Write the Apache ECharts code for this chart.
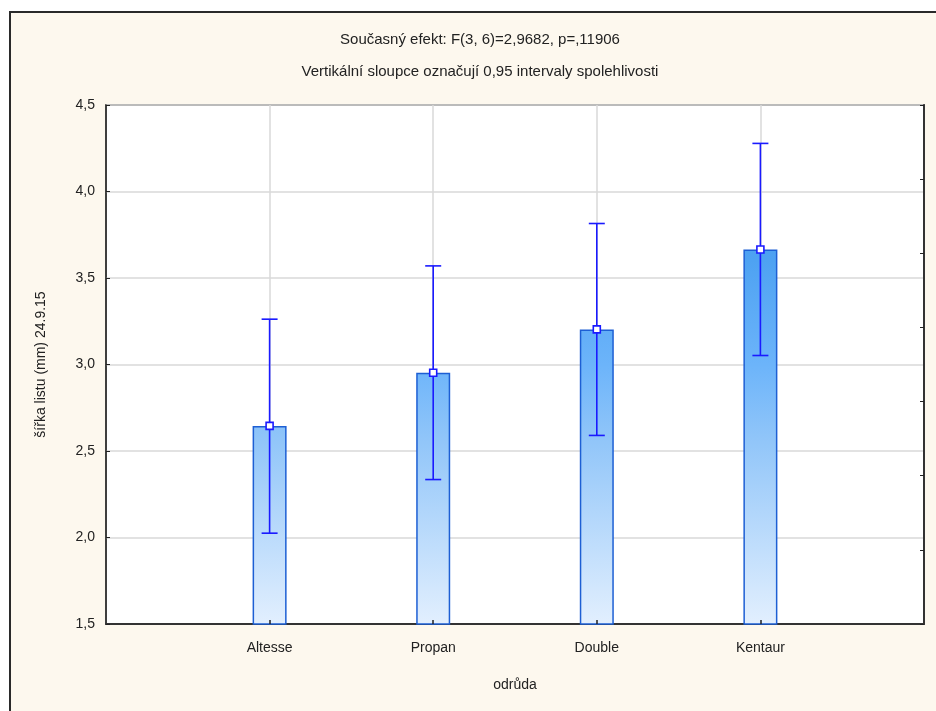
<!DOCTYPE html>
<html>
<head>
<meta charset="utf-8">
<script src="https://cdn.jsdelivr.net/npm/echarts@6/dist/echarts.min.js"></script>
<style>
  html, body { margin: 0; padding: 0; background: #fff; }
  #main { width: 936px; height: 711px; }
</style>
</head>
<body>
<div id="main"></div>
<script>
  // data
  var categories = ['Altesse', 'Propan', 'Double', 'Kentaur'];
  var means = [2.645, 2.952, 3.203, 3.665];
  var ciLow = [2.025, 2.335, 2.590, 3.052];
  var ciHigh = [3.262, 3.570, 3.815, 4.278];
  var titleLines = ['Současný efekt: F(3, 6)=2,9682, p=,11906', 'Vertikální sloupce označují 0,95 intervaly spolehlivosti'];

  var FONT = '"Liberation Sans", Arial, sans-serif';
  var ERR = '#1a1aff';

  // pad one empty slot on each side, like the original axis
  var xCats = [''].concat(categories).concat(['']);
  var barData = ['-'].concat(means).concat(['-']);
  var errData = [];
  for (var i = 0; i < categories.length; i++) {
    errData.push([i + 1, ciLow[i], ciHigh[i], means[i]]);
  }
  function innerIdx(idx) { return idx > 0 && idx < xCats.length - 1; }

  function renderErr(params, api) {
    var x = api.value(0);
    var lo = api.coord([x, api.value(1)]);
    var hi = api.coord([x, api.value(2)]);
    var m = api.coord([x, api.value(3)]);
    var cap = 8;
    var st = { stroke: ERR, lineWidth: 1.6, fill: null };
    return {
      type: 'group',
      children: [
        { type: 'line', shape: { x1: hi[0], y1: hi[1], x2: lo[0], y2: lo[1] }, style: st },
        { type: 'line', shape: { x1: hi[0] - cap, y1: hi[1], x2: hi[0] + cap, y2: hi[1] }, style: st },
        { type: 'line', shape: { x1: lo[0] - cap, y1: lo[1], x2: lo[0] + cap, y2: lo[1] }, style: st },
        { type: 'rect', shape: { x: m[0] - 3.5, y: m[1] - 3.5, width: 7, height: 7 },
          style: { fill: '#fff', stroke: ERR, lineWidth: 1.6 } }
      ]
    };
  }

  var myChart = echarts.init(document.getElementById('main'), null, { renderer: 'canvas' });
  var option = {
    animation: false,
    backgroundColor: '#fff',
    textStyle: { fontFamily: FONT },
    graphic: [
      { type: 'rect', z: -100, silent: true,
        shape: { x: 10, y: 12, width: 940, height: 720 },
        style: { fill: '#fdf8ee', stroke: '#2a2a2a', lineWidth: 2 } },
      { type: 'text', x: 480, y: 40, style: { text: titleLines[0], font: '15px ' + FONT, fill: '#222', align: 'center', verticalAlign: 'middle' } },
      { type: 'text', x: 480, y: 72, style: { text: titleLines[1], font: '15px ' + FONT, fill: '#222', align: 'center', verticalAlign: 'middle' } }
    ],
    grid: {
      left: 106, top: 105, right: 12, bottom: 87,
      show: true, backgroundColor: '#fff', borderColor: '#333', borderWidth: 1.5
    },
    xAxis: [{
      type: 'category',
      data: xCats,
      boundaryGap: false,
      name: 'odrůda',
      nameLocation: 'middle',
      nameGap: 54,
      nameTextStyle: { fontSize: 14, color: '#222' },
      axisLine: { lineStyle: { color: '#333', width: 2 } },
      axisTick: { show: false },
      axisLabel: { fontSize: 14, color: '#222', margin: 17, interval: 0 },
      splitLine: { show: true, lineStyle: { color: '#d9d9d9', width: 1.5 }, interval: innerIdx }
    }, {
      // tick marks only, drawn above the bars
      type: 'category',
      data: xCats,
      boundaryGap: false,
      position: 'bottom',
      offset: 0,
      z: 10,
      axisLine: { show: false },
      axisTick: { show: true, inside: true, length: 4, lineStyle: { color: '#222', width: 1.5 }, interval: innerIdx },
      axisLabel: { show: false },
      splitLine: { show: false }
    }],
    yAxis: [{
      type: 'value',
      min: 1.5,
      max: 4.5,
      interval: 0.5,
      name: 'šířka listu (mm) 24.9.15',
      nameLocation: 'middle',
      nameGap: 58,
      nameTextStyle: { fontSize: 14, color: '#222' },
      axisLine: { show: true, lineStyle: { color: '#333', width: 1.5 } },
      axisTick: { show: true, inside: true, length: 4, lineStyle: { color: '#222' } },
      axisLabel: { fontSize: 14, color: '#222', margin: 11,
        formatter: function (v) { return v.toFixed(1).replace('.', ','); } },
      splitLine: { show: true, lineStyle: { color: '#d9d9d9', width: 1.5 } }
    }, {
      type: 'value',
      position: 'right',
      min: 0,
      max: 7,
      interval: 1,
      axisLine: { show: true, lineStyle: { color: '#333', width: 2 } },
      axisTick: { show: true, inside: true, length: 4, lineStyle: { color: '#222' } },
      axisLabel: { show: false },
      splitLine: { show: false }
    }],
    series: [{
      type: 'bar',
      data: barData,
      barWidth: 34,
      itemStyle: {
        color: new echarts.graphic.LinearGradient(0, 105, 0, 624, [
          { offset: 0, color: '#3d95ec' },
          { offset: 0.3, color: '#4ea2f2' },
          { offset: 0.5, color: '#6cb4fa' },
          { offset: 0.65, color: '#92c6f9' },
          { offset: 1, color: '#e2effe' }
        ], true),
        borderColor: '#1d5fd4',
        borderWidth: 1.5
      }
    }, {
      type: 'custom',
      data: errData,
      renderItem: renderErr,
      z: 5
    }]
  };
  myChart.setOption(option);
</script>
</body>
</html>
